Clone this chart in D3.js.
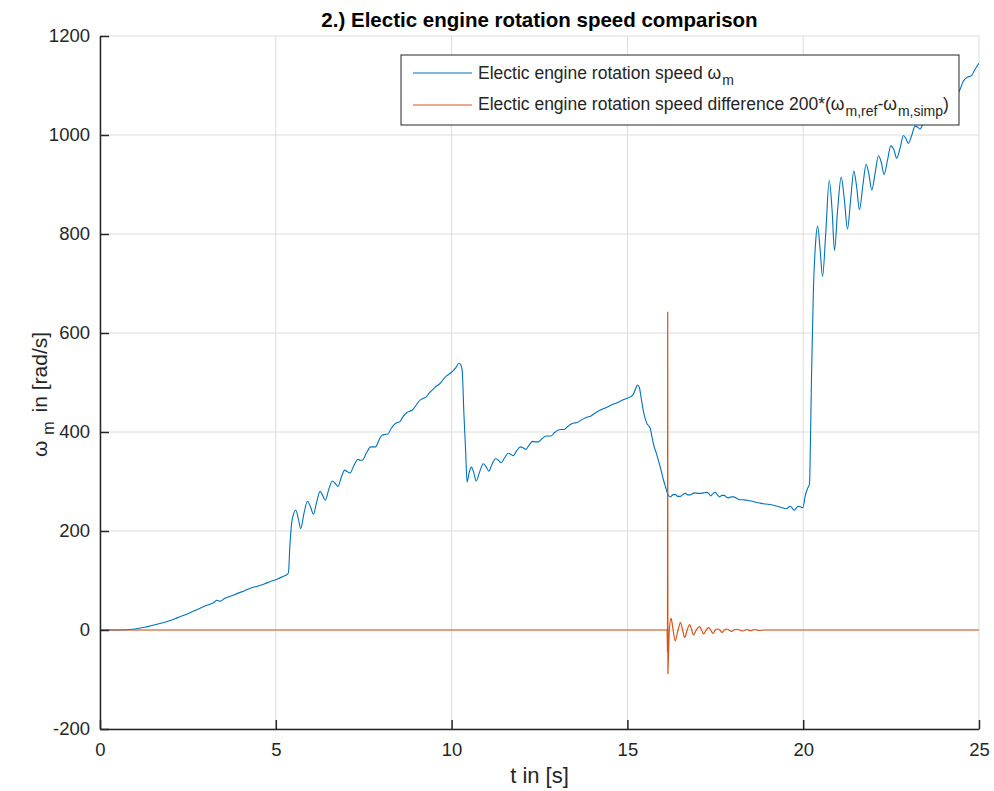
<!DOCTYPE html>
<html><head><meta charset="utf-8">
<script src="https://cdn.jsdelivr.net/npm/d3@7"></script>
<style>
body{margin:0;background:#fff;}
text{font-family:"Liberation Sans",Arial,Helvetica,sans-serif;fill:#262626;}
</style></head>
<body><svg id="c" width="994" height="791"></svg>
<script>
const title = "2.) Electic engine rotation speed comparison";
const xTicks = [0,5,10,15,20,25];
const yTicks = [-200,0,200,400,600,800,1000,1200];
const speedT = [0,0.5,1.0,1.3,1.64,2.0,2.21,2.5,2.78,3.0,3.25,3.32,3.42,3.55,3.62,3.75,3.91,4.1,4.29,4.45,4.67,4.85,5.05,5.2,5.33,5.36,5.40,5.47,5.57,5.64,5.71,5.80,5.90,5.98,6.07,6.16,6.26,6.33,6.41,6.51,6.61,6.69,6.77,6.86,6.96,7.03,7.11,7.22,7.34,7.40,7.46,7.58,7.70,7.77,7.84,7.93,8.03,8.10,8.19,8.28,8.38,8.45,8.53,8.62,8.72,8.80,8.88,9.0,9.11,9.19,9.26,9.38,9.50,9.57,9.64,9.74,9.83,9.93,10.02,10.12,10.21,10.26,10.30,10.35,10.40,10.44,10.50,10.56,10.63,10.70,10.80,10.90,10.98,11.06,11.15,11.25,11.33,11.41,11.51,11.61,11.68,11.75,11.85,11.96,12.03,12.11,12.21,12.31,12.39,12.47,12.58,12.69,12.76,12.83,12.93,13.04,13.11,13.19,13.30,13.40,13.48,13.57,13.66,13.76,13.85,13.95,14.05,14.14,14.28,14.42,14.56,14.71,14.85,14.99,15.08,15.16,15.22,15.29,15.34,15.40,15.46,15.55,15.65,15.70,15.75,15.82,15.88,15.95,16.03,16.09,16.14,16.22,16.29,16.36,16.43,16.50,16.58,16.65,16.72,16.79,16.86,16.93,17.0,17.07,17.16,17.26,17.32,17.37,17.44,17.50,17.56,17.62,17.69,17.76,17.82,17.88,17.95,18.02,18.11,18.21,18.30,18.40,18.50,18.59,18.73,18.87,19.0,19.16,19.35,19.54,19.58,19.63,19.69,19.74,19.80,19.86,19.92,19.99,20.06,20.12,20.18,20.21,20.24,20.29,20.35,20.41,20.48,20.55,20.64,20.74,20.82,20.89,20.98,21.08,21.17,21.26,21.35,21.44,21.52,21.60,21.70,21.79,21.87,21.95,22.05,22.14,22.22,22.30,22.40,22.49,22.58,22.66,22.76,22.85,22.92,22.99,23.09,23.18,23.25,23.32,23.42,23.52,23.60,23.68,23.80,23.90,24.0,24.12,24.25,24.35,24.46,24.55,24.65,24.72,24.79,24.88,24.98,25.0];
const speedV = [0,0,2,6,12,19,25,33,42,49,56,60,58,64,66,69,74,79,85,88,93,98,103,108,113,116,170,225,242,225,205,235,260,250,234,258,280,272,262,285,301,296,290,308,323,320,317,332,345,343,343,358,370,370,370,383,394,395,396,407,416,419,421,431,439,442,444,455,465,468,470,480,488,493,496,504,512,517,522,530,539,536,525,437,360,299,318,329,318,301,320,336,330,321,335,346,343,338,348,357,355,352,362,370,368,365,374,381,380,380,387,392,392,392,399,404,405,405,411,416,418,419,423,427,430,432,437,441,446,450,455,459,464,468,471,475,485,495,490,465,440,418,407,390,373,358,343,325,302,288,276,269,273,274,270,270,274,276,273,273,276,277,276,276,277,278,275,271,276,278,273,269,272,272,268,267,269,269,266,263,263,262,261,259,257,255,254,252,248,245,248,250,246,242,246,250,249,247,272,285,296,400,525,687,780,816,770,714,800,908,850,767,850,915,870,810,870,927,895,849,900,941,920,889,925,958,945,920,950,978,970,953,975,999,993,983,1000,1018,1016,1012,1025,1038,1032,1030,1045,1050,1052,1062,1068,1078,1092,1108,1116,1118,1120,1132,1143,1145];
const diffT = [0,16.10,16.13,16.14,16.146,16.152,16.19,16.24,16.30,16.36,16.44,16.51,16.57,16.63,16.70,16.77,16.83,16.88,16.96,17.05,17.11,17.17,17.24,17.31,17.37,17.43,17.50,17.56,17.63,17.69,17.76,17.83,17.89,17.95,18.03,18.12,18.20,18.28,18.40,18.50,18.62,18.75,18.9,25];
const diffV = [0,0,0,-45,643,-89,0,24,0,-22,0,15,0,-15,0,11,0,-10,0,7,0,-8,0,5,0,-7,0,2,0,-5,0,2,0,-3,0,1.5,0,-2,1,-1.5,1,-1,0,0];

const FF = "'Liberation Sans', Arial, Helvetica, sans-serif";
const svg = d3.select("#c");
const L=100,R=979,T=36,B=729;
const x = d3.scaleLinear().domain([0,25]).range([L,R]);
const y = d3.scaleLinear().domain([-200,1200]).range([B,T]);
const blue="#0072BD", orange="#D95319", ink="#262626";

// grid
const g = svg.append("g");
g.selectAll(".gx").data(xTicks).enter().append("line")
 .attr("x1",d=>x(d)).attr("x2",d=>x(d)).attr("y1",T).attr("y2",B)
 .attr("stroke","#dcdcdc").attr("stroke-width",1);
g.selectAll(".gy").data(yTicks).enter().append("line")
 .attr("y1",d=>y(d)).attr("y2",d=>y(d)).attr("x1",L).attr("x2",R)
 .attr("stroke","#dcdcdc").attr("stroke-width",1);

svg.append("clipPath").attr("id","clip").append("rect").attr("x",L).attr("y",T).attr("width",R-L).attr("height",B-T);

const line = d3.line().x(d=>x(d[0])).y(d=>y(d[1])).curve(d3.curveMonotoneX);
const blueData = speedT.map((t,i)=>[t,speedV[i]]);
const orData = diffT.map((t,i)=>[t,diffV[i]]);
svg.append("path").attr("clip-path","url(#clip)").attr("d",line(blueData)).attr("fill","none").attr("stroke",blue).attr("stroke-width",1.1);
svg.append("path").attr("clip-path","url(#clip)").attr("d",d3.line().x(d=>x(d[0])).y(d=>y(d[1])).curve(d3.curveLinear)(orData.slice(0,7)) + line(orData.slice(6)).replace(/^M/,"L")).attr("fill","none").attr("stroke",orange).attr("stroke-width",1.2);

// axes
const fmt = d => String(d);
const xa = svg.append("g").attr("transform",`translate(0,${B})`).call(d3.axisBottom(x).tickValues(xTicks).tickFormat(fmt).tickSize(-9).tickPadding(14).tickSizeOuter(0));
const ya = svg.append("g").attr("transform",`translate(${L},0)`).call(d3.axisLeft(y).tickValues(yTicks).tickFormat(fmt).tickSize(-9).tickPadding(10).tickSizeOuter(0));
[xa,ya].forEach(a=>{
  a.select(".domain").attr("stroke",ink).attr("stroke-width",1.5);
  a.selectAll(".tick line").attr("stroke",ink).attr("stroke-width",1.5);
  a.selectAll(".tick text").attr("fill",ink).style("font-size","18.5px").style("font-family",FF);
});

// title
svg.append("text").attr("x",(L+R)/2).attr("y",27).attr("text-anchor","middle").style("font-family",FF).style("font-size","20.5px").style("font-weight","bold").style("fill","#000").text(title);
// x label
svg.append("text").attr("x",(L+R)/2).attr("y",783).attr("text-anchor","middle").style("font-family",FF).style("font-size","22px").text("t in [s]");
// y label
const yl = svg.append("text").attr("transform",`translate(47,${(T+B)/2 + 12}) rotate(-90)`).attr("text-anchor","middle").style("font-family",FF).style("font-size","21px");
yl.append("tspan").text("ω");
yl.append("tspan").attr("dy",7).attr("dx",6).style("font-size","16px").text("m");
yl.append("tspan").attr("dy",-7).attr("dx",3).text(" in [rad/s]");

// legend
const lg = svg.append("g");
lg.append("rect").attr("x",401).attr("y",55).attr("width",558).attr("height",70).attr("fill","#fff").attr("stroke",ink).attr("stroke-width",1);
lg.append("line").attr("x1",413).attr("x2",472).attr("y1",73).attr("y2",73).attr("stroke",blue).attr("stroke-width",1.1);
lg.append("line").attr("x1",413).attr("x2",472).attr("y1",105).attr("y2",105).attr("stroke",orange).attr("stroke-width",1.1);
const t1 = lg.append("text").attr("x",478).attr("y",79).style("font-family",FF).style("font-size","17.5px");
t1.append("tspan").text("Electic engine rotation speed ");
t1.append("tspan").text("ω");
t1.append("tspan").attr("dy",6).attr("dx",1).style("font-size","14px").text("m");
const t2 = lg.append("text").attr("x",478).attr("y",110).style("font-family",FF).style("font-size","17.5px");
t2.append("tspan").text("Electic engine rotation speed difference 200*(");
t2.append("tspan").text("ω");
t2.append("tspan").attr("dy",6).attr("dx",1).style("font-size","14px").text("m,ref");
t2.append("tspan").attr("dy",-6).text("-");
t2.append("tspan").text("ω");
t2.append("tspan").attr("dy",6).attr("dx",1).style("font-size","14px").text("m,simp");
t2.append("tspan").attr("dy",-6).text(")");
</script></body></html>
